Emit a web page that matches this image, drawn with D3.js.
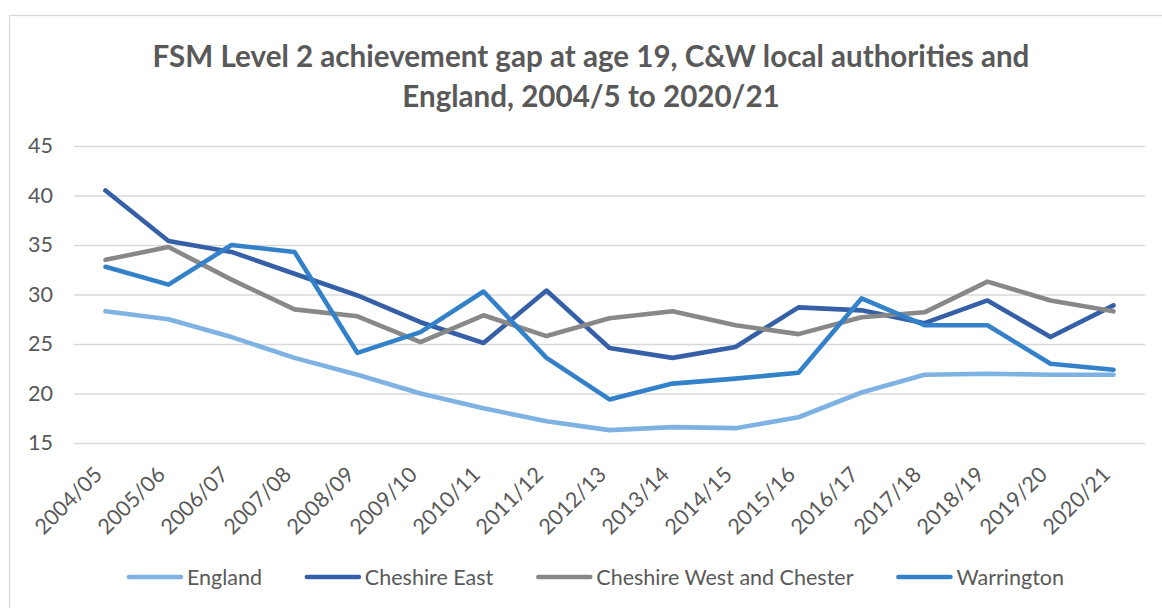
<!DOCTYPE html>
<html>
<head>
<meta charset="utf-8">
<script src="https://cdn.jsdelivr.net/npm/d3@7"></script>
<style>
  body { margin: 0; background: #fff; }
  svg { display: block; font-family: Lato, "Open Sans", sans-serif; }
</style>
</head>
<body>
<div class="content"></div>
<script>
// Data
const years = [
  "2004/05", "2005/06", "2006/07", "2007/08", "2008/09", "2009/10",
  "2010/11", "2011/12", "2012/13", "2013/14", "2014/15", "2015/16",
  "2016/17", "2017/18", "2018/19", "2019/20", "2020/21",
];
const england = [28.3, 27.5, 25.7, 23.6, 21.9, 20.0, 18.5, 17.2, 16.3, 16.6, 16.5, 17.6, 20.1, 21.9, 22.0, 21.9, 21.9];
const cheshireEast = [40.5, 35.4, 34.3, 32.1, 29.9, 27.2, 25.1, 30.4, 24.6, 23.6, 24.7, 28.7, 28.4, 27.1, 29.4, 25.7, 28.9];
const cheshireWest = [33.5, 34.8, 31.5, 28.5, 27.8, 25.2, 27.9, 25.8, 27.6, 28.3, 26.9, 26.0, 27.7, 28.2, 31.3, 29.4, 28.3];
const warrington = [32.8, 31.0, 35.0, 34.3, 24.1, 26.2, 30.3, 23.6, 19.4, 21.0, 21.5, 22.1, 29.6, 26.9, 26.9, 23.0, 22.4];
const yTicks = [15, 20, 25, 30, 35, 40, 45];

const seriesNames = ["England", "Cheshire East", "Cheshire West and Chester", "Warrington"];
const seriesColors = ["#7EB2E2", "#3560A8", "#888888", "#3381C9"];
const series = [england, cheshireEast, cheshireWest, warrington].map((values, i) => ({
  name: seriesNames[i],
  color: seriesColors[i],
  values,
}));

// Dimensions
const W = 1162;
const H = 608;
const plot = { left: 74, right: 1145, top: 146, bottom: 443 };
const textColor = "#595959";
const fontFamily = "Lato, 'Open Sans', sans-serif";
const labelSize = 21.5;

const svg = d3
  .select(".content")
  .append("svg")
  .attr("width", W)
  .attr("height", H);

// Chart border
svg
  .append("rect")
  .attr("x", 9.5)
  .attr("y", 15.5)
  .attr("width", W + 20)
  .attr("height", H + 20)
  .attr("fill", "#fff")
  .attr("stroke", "#d9d9d9")
  .attr("stroke-width", 1.3);

// Title (two lines, fitted to width)
const titleLines = [
  "FSM Level 2 achievement gap at age 19, C&W local authorities and",
  "England, 2004/5 to 2020/21",
];
const title = svg
  .append("text")
  .attr("text-anchor", "middle")
  .attr("fill", textColor)
  .attr("font-weight", "bold")
  .attr("font-size", 26);
titleLines.forEach((line, i) => {
  title
    .append("tspan")
    .attr("x", 591)
    .attr("y", 67 + i * 40)
    .text(line);
});
const firstLine = title.select("tspan").node();
const fitSize = (26 * 877) / firstLine.getComputedTextLength();
title.attr("font-size", fitSize);

// Scales
const xScale = d3
  .scaleBand()
  .domain(years)
  .range([plot.left, plot.right]);

const yScale = d3
  .scaleLinear()
  .domain([15, 45])
  .range([plot.bottom, plot.top]);

// Y axis with gridlines
const yAxis = d3
  .axisLeft(yScale)
  .tickValues(yTicks)
  .tickSize(-(plot.right - plot.left))
  .tickPadding(21);

const yG = svg
  .append("g")
  .attr("transform", `translate(${plot.left}, 0)`)
  .call(yAxis)
  .attr("font-family", fontFamily)
  .attr("font-size", labelSize);
yG.select(".domain").remove();
yG.selectAll(".tick line").attr("stroke", "#d9d9d9").attr("stroke-width", 1.4);
yG.selectAll(".tick text").attr("fill", textColor);

// X axis (rotated labels)
const xAxis = d3.axisBottom(xScale).tickSize(0);
const xG = svg
  .append("g")
  .attr("transform", `translate(0, ${plot.bottom})`)
  .call(xAxis)
  .attr("font-family", fontFamily)
  .attr("font-size", labelSize);
xG.select(".domain").remove();
xG.selectAll(".tick text")
  .attr("fill", textColor)
  .attr("text-anchor", "end")
  .attr("dy", 0)
  .attr("y", 0)
  .attr("transform", "translate(-2, 33) rotate(-45)");

// Lines
const line = d3
  .line()
  .x((d, i) => xScale(years[i]) + xScale.bandwidth() / 2)
  .y((d) => yScale(d));

svg
  .append("g")
  .selectAll("path")
  .data(series)
  .join("path")
  .attr("d", (d) => line(d.values))
  .attr("fill", "none")
  .attr("stroke", (d) => d.color)
  .attr("stroke-width", 4.6)
  .attr("stroke-linejoin", "round")
  .attr("stroke-linecap", "round");

// Legend
const legend = svg.append("g").attr("transform", "translate(0, 577)");
const symW = 56;
const symGap = 4;
const legendLeft = 127;
const legendRight = 1062;

const items = legend
  .selectAll("g")
  .data(series)
  .join("g");

items
  .append("text")
  .attr("x", symW + symGap)
  .attr("dy", "0.35em")
  .attr("font-size", labelSize)
  .attr("fill", textColor)
  .text((d) => d.name);

items
  .append("line")
  .attr("x1", 2)
  .attr("x2", symW - 2)
  .attr("stroke", (d) => d.color)
  .attr("stroke-width", 4.6)
  .attr("stroke-linecap", "round");

const widths = items.nodes().map((n) => n.getBBox().width);
const itemGap = (legendRight - legendLeft - d3.sum(widths)) / (widths.length - 1);
let cursor = legendLeft;
items.attr("transform", (d, i) => {
  const x = cursor;
  cursor += widths[i] + itemGap;
  return `translate(${x}, 0)`;
});
</script>
</body>
</html>
